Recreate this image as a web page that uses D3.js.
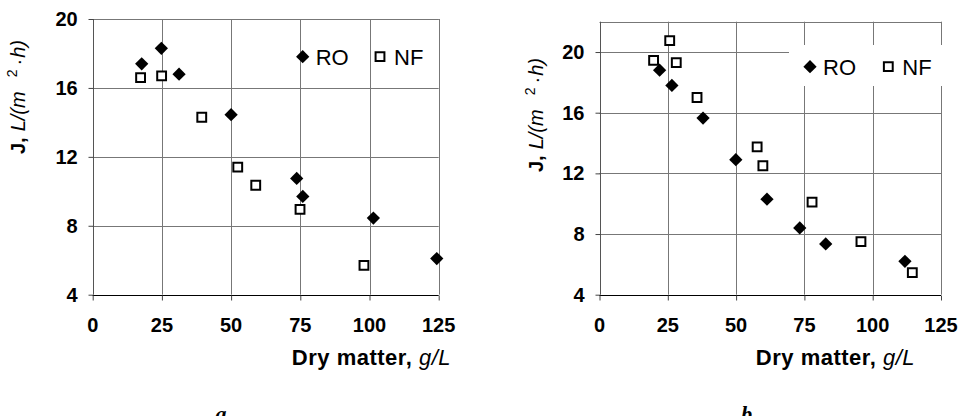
<!DOCTYPE html>
<html lang="en">
  <head>
    <meta charset="utf-8">
    <title>Flux vs dry matter</title>
    <script src="https://cdn.jsdelivr.net/npm/d3@7"></script>
    <style>
      body { margin: 0; background: #fff; }
      svg { display: block; }
      text { font-family: "Liberation Sans", Arial, sans-serif; fill: #000; }
      .tick-label { font-size: 20px; font-weight: bold; }
      .legend text { font-size: 22px; }
    </style>
  </head>
  <body>
    <svg id="chart" width="961" height="416"></svg>
    <script>
      // tick values
      var xTicks = [0, 25, 50, 75, 100, 125];
      var yTicks = [4, 8, 12, 16, 20];

      // panel a: [dry matter g/L, J]
      var roA = [[17.7, 17.4], [24.8, 18.3], [31.2, 16.8], [50.0, 14.45],
                 [73.7, 10.75], [75.9, 9.7], [101.4, 8.45], [124.3, 6.1]];
      var nfA = [[17.3, 16.6], [24.9, 16.7], [39.4, 14.3], [52.4, 11.4],
                 [58.9, 10.35], [74.9, 8.95], [98.0, 5.7]];

      // panel b
      var roB = [[22.0, 18.8], [26.5, 17.8], [37.9, 15.65], [49.9, 12.9],
                 [61.3, 10.3], [73.3, 8.4], [82.8, 7.35], [111.8, 6.2]];
      var nfB = [[19.8, 19.45], [25.7, 20.75], [28.1, 19.3], [35.7, 17.0],
                 [57.7, 13.75], [59.8, 12.5], [77.8, 10.1], [95.7, 7.5], [114.5, 5.45]];

      var seriesNames = ["RO", "NF"];

      var svg = d3.select("#chart");

      var diamond = d3.symbol().type(d3.symbolSquare).size(88);
      var square = d3.symbol().type(d3.symbolSquare).size(78);

      function drawPanel(cfg) {
        var x = d3.scaleLinear().domain([0, 125]).range([cfg.left, cfg.right]);
        var y = d3.scaleLinear().domain(cfg.yDomain).range([cfg.bottom, cfg.top]);
        var g = svg.append("g");

        // grid
        g.selectAll(".hgrid")
          .data(yTicks.filter(function(d) { return d > cfg.yDomain[0]; }))
          .enter().append("line")
          .attr("x1", cfg.left).attr("x2", function(d) { return d === 20 && cfg.cut20 ? cfg.cut20 : cfg.right; })
          .attr("y1", function(d) { return Math.round(y(d)) + 0.5; })
          .attr("y2", function(d) { return Math.round(y(d)) + 0.5; })
          .attr("stroke", "#777").attr("stroke-width", 1);

        g.selectAll(".vgrid")
          .data(xTicks.slice(1))
          .enter().append("line")
          .attr("x1", function(d) { return Math.round(x(d)) + 0.5; })
          .attr("x2", function(d) { return Math.round(x(d)) + 0.5; })
          .attr("y1", cfg.top).attr("y2", cfg.bottom)
          .attr("stroke", "#777").attr("stroke-width", 1);

        // top border
        g.append("line")
          .attr("x1", cfg.left).attr("x2", cfg.right)
          .attr("y1", Math.round(cfg.top) + 0.5).attr("y2", Math.round(cfg.top) + 0.5)
          .attr("stroke", "#777");

        // legend box (white background in b)
        if (cfg.legendBox) {
          g.append("rect")
            .attr("x", cfg.legendBox[0]).attr("y", cfg.legendBox[1])
            .attr("width", cfg.legendBox[2]).attr("height", cfg.legendBox[3])
            .attr("fill", "#fff");
        }

        // axes
        var yAxis = d3.axisLeft(y).tickValues(yTicks).tickSize(5).tickFormat("");
        var xAxis = d3.axisBottom(x).tickValues(xTicks).tickSize(5).tickFormat("");
        var ya = g.append("g").attr("transform", "translate(" + (Math.round(cfg.left) + 0.5) + ",0)").call(yAxis);
        ya.select(".domain").attr("stroke", "#555").attr("d", "M0," + cfg.top + "V" + cfg.bottom);
        ya.selectAll(".tick line").attr("stroke", "#444");
        var xa = g.append("g").attr("transform", "translate(0," + (Math.round(cfg.bottom) + 0.5) + ")").call(xAxis);
        xa.select(".domain").attr("stroke", "#000").attr("d", "M" + cfg.left + ",0H" + cfg.right);
        xa.selectAll(".tick line").attr("stroke", "#444");

        // tick labels
        g.selectAll(".ylab").data(yTicks).enter().append("text")
          .attr("class", "tick-label")
          .attr("x", cfg.left - 15)
          .attr("y", function(d) { return y(d) + 7; })
          .attr("text-anchor", "end")
          .text(function(d) { return d; });
        g.selectAll(".xlab").data(xTicks).enter().append("text")
          .attr("class", "tick-label")
          .attr("x", function(d) { return x(d); })
          .attr("y", 332)
          .attr("text-anchor", "middle")
          .text(function(d) { return d; });

        // x title
        var xt = g.append("text")
          .attr("x", cfg.xTitleEnd).attr("y", 365)
          .attr("text-anchor", "end")
          .style("font-size", "22px")
          .style("letter-spacing", "0.5px");
        xt.append("tspan").style("font-weight", "bold").text("Dry matter, ");
        xt.append("tspan").style("font-style", "italic").text("g/L");

        // y title, reads bottom to top
        var yt = g.append("text")
          .attr("transform", "translate(" + cfg.yTitleX + "," + cfg.yTitleY + ") rotate(-90)")
          .attr("text-anchor", "start")
          .style("font-size", "20px");
        yt.append("tspan").style("font-weight", "bold").text("J,");
        yt.append("tspan").attr("dx", 6).style("font-style", "italic").text("L/(m");
        yt.append("tspan").attr("dx", 14).attr("dy", -8).style("font-size", "14px").text("2");
        yt.append("tspan").attr("dx", 4).attr("dy", 8).text("\u00b7");
        yt.append("tspan").attr("dx", 1).style("font-style", "italic").text("h)");

        // panel letter
        g.append("text")
          .attr("x", cfg.letterX).attr("y", 421)
          .attr("text-anchor", "middle")
          .style("font-family", "'Liberation Serif', 'Times New Roman', serif")
          .style("font-style", "italic").style("font-weight", "bold")
          .style("font-size", "22px")
          .text(cfg.letter);

        // points
        g.selectAll(".ro").data(cfg.ro).enter().append("path")
          .attr("d", diamond)
          .attr("transform", function(d) { return "translate(" + x(d[0]) + "," + y(d[1]) + ") rotate(45)"; })
          .attr("fill", "#000");
        g.selectAll(".nf").data(cfg.nf).enter().append("path")
          .attr("d", square)
          .attr("transform", function(d) { return "translate(" + x(d[0]) + "," + y(d[1]) + ")"; })
          .attr("fill", "#fff").attr("stroke", "#000").attr("stroke-width", 2);

        // legend
        var lg = g.append("g").attr("class", "legend");
        lg.append("path").attr("d", diamond)
          .attr("transform", "translate(" + cfg.legend[0] + "," + cfg.legend[1] + ") rotate(45)")
          .attr("fill", "#000");
        lg.append("text").attr("x", cfg.legend[0] + 13).attr("y", cfg.legend[1] + 8).text(seriesNames[0]);
        lg.append("path").attr("d", square)
          .attr("transform", "translate(" + cfg.legend[2] + "," + cfg.legend[1] + ")")
          .attr("fill", "#fff").attr("stroke", "#000").attr("stroke-width", 2);
        lg.append("text").attr("x", cfg.legend[2] + 14).attr("y", cfg.legend[1] + 8).text(seriesNames[1]);
      }

      drawPanel({
        left: 92.7, right: 438.7, top: 19, bottom: 294.7, yDomain: [4, 20],
        ro: roA, nf: nfA,
        xTitleEnd: 451, yTitleX: 25, yTitleY: 154,
        letter: "a", letterX: 221,
        legend: [302.7, 56.7, 380]
      });

      drawPanel({
        left: 599.5, right: 941, top: 21.7, bottom: 294.7, yDomain: [4, 22],
        ro: roB, nf: nfB, cut20: 789,
        legendBox: [789, 45, 160, 41],
        xTitleEnd: 915, yTitleX: 543, yTitleY: 172,
        letter: "b", letterX: 746.7,
        legend: [810, 66.7, 888.3]
      });
    </script>
  </body>
</html>
